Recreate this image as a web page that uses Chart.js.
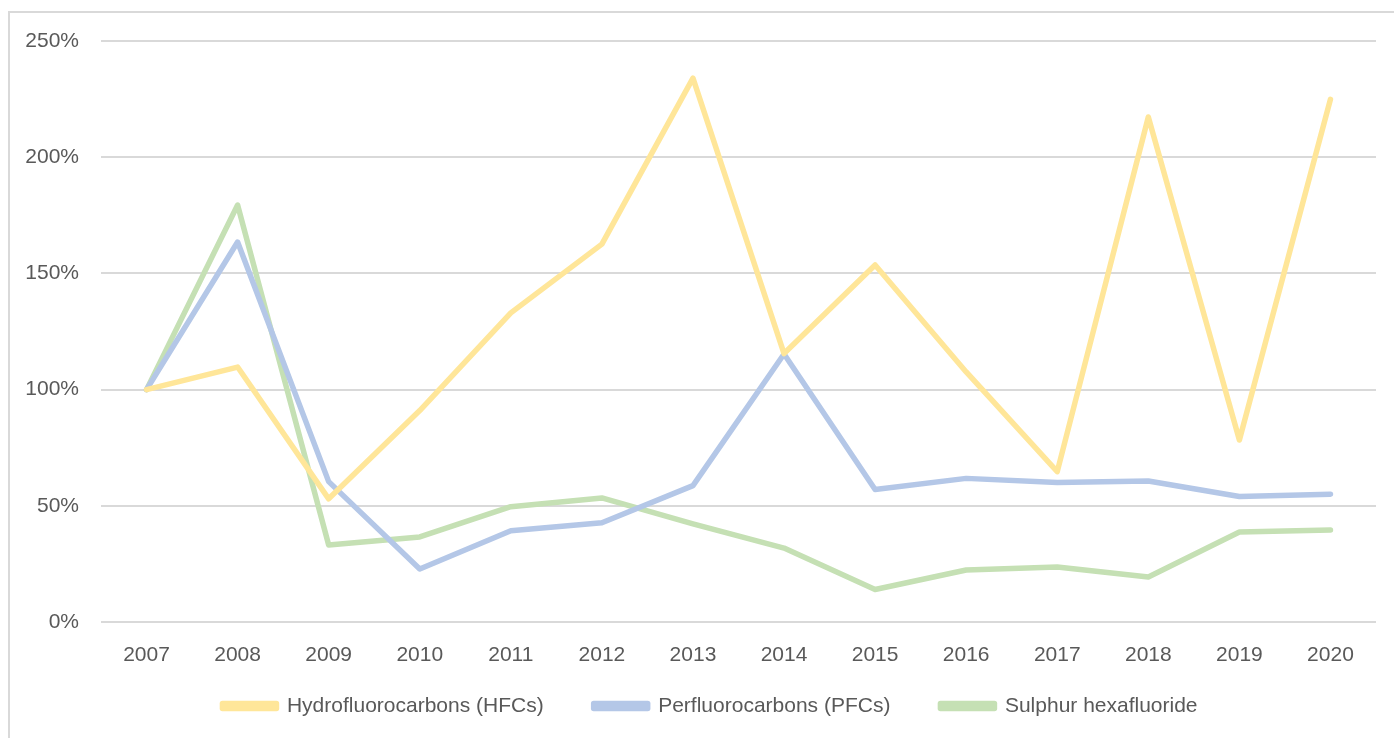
<!DOCTYPE html>
<html>
<head>
<meta charset="utf-8">
<script src="https://cdn.jsdelivr.net/npm/chart.js@4"></script>
<style>
  body { margin: 0; background: #fff; }
  #frame {
    position: absolute; left: 8px; top: 11px; width: 1400px; height: 740px;
    border: 2px solid #d9d9d9; box-sizing: border-box;
  }
  #wrap { position: absolute; left: 0; top: 0; width: 1394px; height: 738px; }
</style>
</head>
<body>
<div id="frame"></div>
<div id="wrap"><canvas id="myChart"></canvas></div>
<script>
//DATA
const years = ["2007", "2008", "2009", "2010", "2011", "2012", "2013",
  "2014", "2015", "2016", "2017", "2018", "2019", "2020"];
const hfcs = [100, 109.7, 53, 91, 133, 162.6, 234, 115.5, 153.6, 107.6, 64.7, 217.3, 78.3, 224.9];
const pfcs = [100, 163.5, 60.4, 22.8, 39.3, 42.7, 58.7, 115.3, 57, 61.8, 60, 60.7, 54, 55];
const sf6 = [100, 179.4, 33.1, 36.6, 49.6, 53.4, 42.2, 31.8, 14, 22.4, 23.7, 19.4, 38.7, 39.6];

const FONT = "'Liberation Sans', Arial, sans-serif";
const TEXT = "#595959";
const LEGEND_PAD = 50;

function series(label, data, colour) {
  return {
    label: label,
    data: data,
    borderColor: colour,
    backgroundColor: colour,
    borderWidth: 5.5,
    borderCapStyle: "round",
    borderJoinStyle: "round",
    pointRadius: 0,
    tension: 0,
  };
}

// move the legend up/right so it sits where the original one does
const legendShift = {
  id: "legendShift",
  afterLayout(chart) {
    const lg = chart.legend;
    lg.top = 706 - LEGEND_PAD - 10.5;
    lg.bottom = lg.top + 90;
    lg.left += 22;
    lg.right += 22;
  },
};

//CHART CONFIGURATION
const config = {
  type: "line",
  data: {
    labels: years,
    datasets: [
      series("Hydrofluorocarbons (HFCs)", hfcs, "#ffe699"),
      series("Perfluorocarbons (PFCs)", pfcs, "#b4c7e7"),
      series("Sulphur hexafluoride", sf6, "#c5e0b4"),
    ],
  },
  options: {
    responsive: true,
    maintainAspectRatio: false,
    animation: false,
    layout: { padding: { top: 41, right: 18, bottom: 30, left: 0 } },
    plugins: {
      tooltip: { enabled: false },
      legend: {
        position: "bottom",
        maxHeight: 40,
        labels: {
          boxWidth: 54,
          boxHeight: 5,
          padding: LEGEND_PAD,
          color: TEXT,
          font: { family: FONT, size: 21 },
        },
      },
    },
    scales: {
      x: {
        offset: true,
        grid: { display: false },
        border: { display: false },
        ticks: { color: TEXT, font: { family: FONT, size: 21 }, padding: 13, maxRotation: 0 },
        afterFit: (s) => { s.height = 46; },
      },
      y: {
        min: 0,
        max: 250,
        grid: { color: "#d9d9d9", lineWidth: 2, drawTicks: false },
        border: { display: false },
        ticks: {
          stepSize: 50,
          color: TEXT,
          font: { family: FONT, size: 21 },
          padding: 22,
          callback: (v) => v + "%",
        },
        afterFit: (s) => { s.width = 101; },
      },
    },
  },
  plugins: [legendShift],
};

// RENDER CHART
new Chart(document.getElementById("myChart"), config);
</script>
</body>
</html>
